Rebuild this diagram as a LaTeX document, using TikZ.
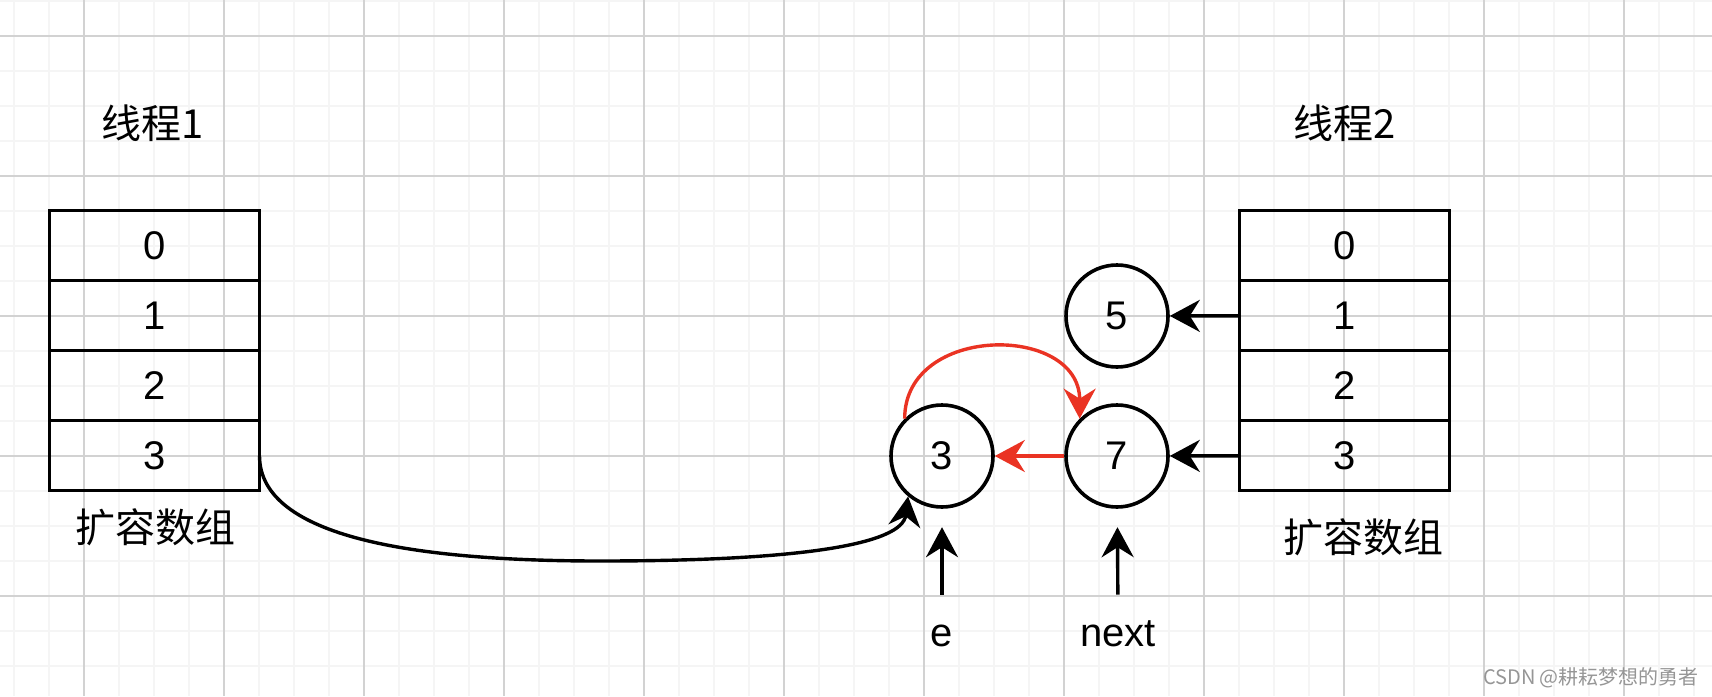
\documentclass[tikz,border=0pt]{standalone}
\usepackage{fontspec}
\setmainfont{Liberation Sans}
\newfontfamily\cjk{Noto Sans CJK SC}
\usepackage{xcolor}
\usepackage{tikz}
\usetikzlibrary{positioning, arrows.meta}
\definecolor{gridmajor}{RGB}{210,210,210}
\definecolor{gridminor}{RGB}{245,245,245}
\definecolor{hotred}{RGB}{234,51,35}
\definecolor{wmgray}{RGB}{150,150,150}

\begin{document}
\begin{tikzpicture}[x=0.5pt, y=-0.5pt,
  txt/.style={font=\fontsize{20}{24}\selectfont},
  cell/.style={txt, draw, line width=1.7pt, minimum width=105pt, minimum height=35pt, inner sep=0pt, outer sep=0pt},
  nd/.style={txt, draw, circle, line width=1.8pt, minimum size=51pt, inner sep=0pt},
  ttl/.style={font=\fontsize{20}{24}\selectfont\cjk},
  ptr/.style={txt, anchor=base, inner sep=0pt, text height=25.5pt, text depth=0pt},
  arr/.style={-{Stealth[length=15pt, width=16pt, inset=5pt]}, line width=1.7pt},
  node distance=0pt]
\useasboundingbox (0,0) rectangle (1712,696);
\fill[white] (0,0) rectangle (1712,696);
% background grid
\foreach \gx in {14,49,...,1694} \draw[gridminor, line width=1pt] (\gx,0) -- (\gx,696);
\foreach \gy in {1,36,...,666} \draw[gridminor, line width=1pt] (0,\gy) -- (1712,\gy);
\foreach \gx in {84,224,...,1624} \draw[gridmajor, line width=0.8pt] (\gx,0) -- (\gx,696);
\foreach \gy in {36,176,...,596} \draw[gridmajor, line width=0.8pt] (0,\gy) -- (1712,\gy);
% thread 1
\node[ttl] (t1) at (153,123) {线程1};
\node[cell] (l0) at (154.5,245.7) {0};
\node[cell, below=of l0] (l1) {1};
\node[cell, below=of l1] (l2) {2};
\node[cell, below=of l2] (l3) {3};
\node[ttl] (s1) at (155.5,527) {扩容数组};
% thread 2
\node[ttl] (t2) at (1345,123) {线程2};
\node[cell] (r0) at (1344.7,245.7) {0};
\node[cell, below=of r0] (r1) {1};
\node[cell, below=of r1] (r2) {2};
\node[cell, below=of r2] (r3) {3};
\node[ttl] (s2) at (1363,537) {扩容数组};
% entries
\node[nd] (c5) at (1117,316) {5};
\node[nd] (c3) at (942,456) {3};
\node[nd] (c7) at (1117,456) {7};
\node[ptr] (e) at (942,646) {e};
\node[ptr] (nx) at (1118,646) {next};
\draw[arr] (r1) -- (c5);
\draw[arr] (r3) -- (c7);
\draw[arr, hotred] (c7) -- (c3);
\draw[arr, hotred] (c3.north west) .. controls +(0,-95) and +(0,-95) .. (c7.north west);
\draw[arr] (l3.east) .. controls +(0,83) and +(-180,0) .. (600,561) .. controls +(200,0) and +(-6,48) .. (c3.230);
\draw[arr, shorten >=9.2pt] (e) -- (c3);
\draw[arr, shorten >=9.2pt] (nx) -- (c7);
\node[font=\fontsize{10}{12}\selectfont\cjk, text=wmgray] (wm) at (1591,678) {CSDN @耕耘梦想的勇者};
\end{tikzpicture}
\end{document}
